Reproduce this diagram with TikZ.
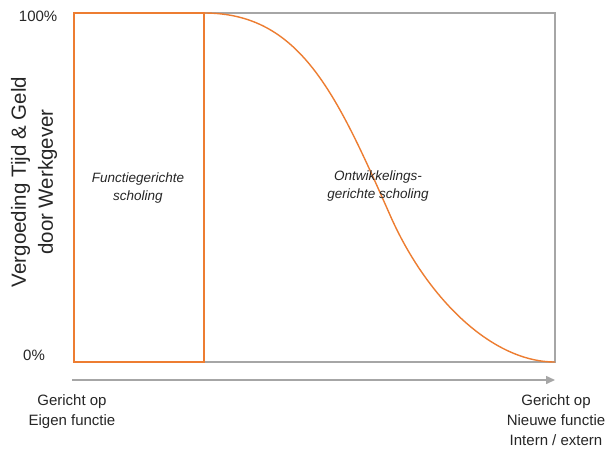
\documentclass[tikz,border=0pt]{standalone}
\usepackage{fontspec}
\setmainfont{Liberation Sans}
\usetikzlibrary{arrows.meta}
\definecolor{acorange}{HTML}{ED7D31}
\definecolor{frgray}{HTML}{A6A6A6}
\definecolor{txt}{HTML}{262626}
\tikzset{
  axislabel/.style={text=txt, font=\fontsize{15}{20}\selectfont, inner sep=0pt, align=center},
  arealabel/.style={text=txt, font=\fontsize{13.5}{18}\selectfont\itshape, inner sep=0pt, align=center},
  ylabel/.style={text=txt, font=\fontsize{20.5}{27}\selectfont, inner sep=0pt, align=center, rotate=90},
  frame/.style={draw=frgray, line width=1.5pt},
  orangebox/.style={draw=acorange, line width=2.2pt},
  curve/.style={draw=acorange, line width=1.4pt},
  axisarrow/.style={draw=frgray, line width=1.5pt, -{Triangle[length=9pt,width=8pt]}}
}
\begin{document}
\begin{tikzpicture}[x=1pt,y=-1pt]
\useasboundingbox (0,0) rectangle (609,450);
\fill[white] (0,0) rectangle (609,450);
% frame
\draw[frame] (74,13) rectangle (555,362);
% orange box
\draw[orangebox] (74,13) rectangle (204,362);
% curve
\coordinate (cstart) at (204,13);
\coordinate (cmid) at (390,215);
\coordinate (cend) at (555,362);
\draw[curve] (cstart) .. controls (300,13) and (336,93) .. (cmid)
  .. controls (425,295) and (490,362) .. (cend);
% axis arrow
\coordinate (axstart) at (72,380);
\coordinate (axend) at (555,380);
\draw[axisarrow] (axstart) -- (axend);
% labels
\node[axislabel, anchor=east] (p100) at (57.5,16) {100\%};
\node[axislabel] (p0) at (34,355) {0\%};
\node[ylabel] (ylab) at (34,182) {Vergoeding Tijd \& Geld\\door Werkgever};
\node[arealabel] (func) at (138,188.5) {Functiegerichte\\scholing};
\node[arealabel] (ontw) at (378,186) {Ontwikkelings-\\gerichte scholing};
\node[axislabel, anchor=north] (left) at (72,394) {Gericht op\\Eigen functie};
\node[axislabel, anchor=north] (right) at (556,394) {Gericht op\\Nieuwe functie\\Intern / extern};
\end{tikzpicture}
\end{document}
